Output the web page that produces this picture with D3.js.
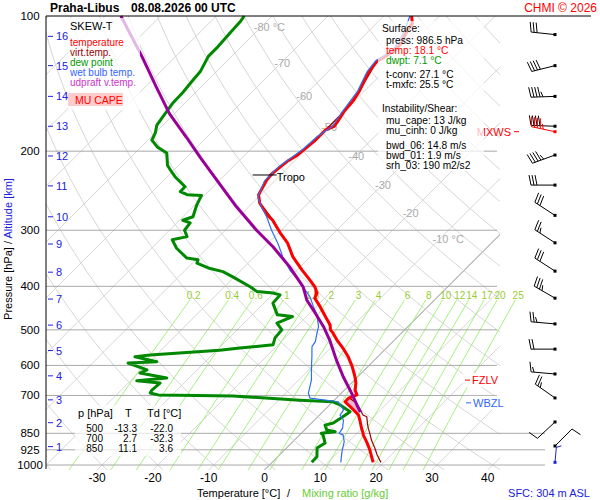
<!DOCTYPE html>
<html>
<head>
<meta charset="utf-8">
<script src="https://cdn.jsdelivr.net/npm/d3@7"></script>
<style>
  body { margin: 0; background: #fff; }
  svg { font-family: "Liberation Sans", Arial, sans-serif; }
</style>
</head>
<body>
<script>
// sounding (pressure hPa / degC)
const tempP = [986.5,958,926,887,857,850,828,801,774,754,723,710,698,681,657,636,604,574,549,527,508,500,488,467,444,425,414,401,383,368,344,320,304,285,278,261,250,233,225,217,210,205,198,190,185,179,176,171,163,154,147,133,126,124,119,115,109,104,100];
const tempT = [18.1,16.8,15.3,13.2,11.4,11.1,9.9,8.5,7.0,5.2,2.2,2.2,3.1,1.9,0.8,-0.5,-2.8,-5.3,-7.8,-10.3,-12.3,-13.3,-14.2,-16.6,-19.3,-21.8,-22.3,-23.8,-26.6,-29.1,-33.1,-36.6,-39.7,-43.3,-45.1,-48.7,-50.4,-51.5,-51.8,-51.5,-51.2,-50.6,-50.3,-50.0,-50.0,-50.0,-49.1,-49.4,-50.0,-50.3,-50.9,-52.7,-53.1,-52.6,-51.9,-51.9,-53.1,-53.5,-55.0];

const virtP = [986.5,950,918,880,850,828,808,781,774,754,729,710,698,681,657,636,604,574,549,527,500,467,444,425,401,383,368,344,320,304,285,261,250,233,217,198,179,163,147,126,115,104,100];
const virtT = [19.5,17.5,15.9,13.8,12.3,11.1,10.1,8.8,7.8,6.4,4.6,2.4,3.2,2.0,0.9,-0.4,-2.7,-5.2,-7.7,-10.2,-13.2,-16.5,-19.2,-21.7,-23.7,-26.5,-29.0,-33.0,-36.5,-39.6,-43.2,-48.6,-50.4,-51.5,-51.5,-50.3,-50.0,-50.0,-50.9,-53.1,-51.9,-53.5,-55.0];

const dewP = [986.5,958,917,893,857,850,843,836,815,806,781,761,735,723,717,702,698,691,681,657,649,640,624,614,593,589,574,569,555,549,540,521,500,483,467,463,436,418,414,411,401,381,371,364,355,349,346,329,315,310,300,289,285,280,264,251,250,246,240,228,220,215,202,196,189,182,175,168,156,148,139,133,123,117,109,103,100];
const dewT = [7.1,7.0,5.5,6.0,4.2,3.6,5.8,4.0,2.8,3.9,4.5,4.9,1.9,0.0,-6.2,-18.9,-32.5,-34.3,-34.5,-34.3,-38.9,-34.0,-39.7,-39.0,-43.6,-38.7,-43.5,-41.1,-29.5,-26.3,-20.9,-21.8,-22.0,-24.1,-22.5,-25.5,-28.4,-28.6,-30.2,-33.3,-35.4,-40.3,-43.0,-46.3,-49.2,-49.6,-51.9,-55.5,-57.8,-55.7,-57.3,-57.6,-59.4,-58.2,-59.6,-60.5,-63.2,-65.0,-65.0,-68.6,-70.7,-72.0,-74.3,-77.0,-79.3,-80.0,-81.1,-81.5,-82.2,-82.3,-82.7,-82.9,-84.2,-84.2,-84.5,-84.7,-85.0];

const wetP = [986.5,934,887,857,850,828,794,774,754,723,710,692,647,604,574,545,531,509,492,463,444,422,406,387,368,344,321,300,280,266,253,233,217,198,185,176,163,147,133,126,119,109,100];
const wetT = [12.3,10.6,9.2,7.8,6.8,6.5,5.2,3.7,3.4,1.0,-4.7,-5.9,-7.7,-10.1,-11.8,-13.6,-13.9,-15.1,-16.0,-18.4,-20.5,-22.9,-25.2,-28.0,-31.3,-34.9,-38.2,-41.7,-45.0,-47.7,-50.1,-51.8,-51.8,-50.6,-50.3,-49.4,-50.3,-51.2,-53.0,-53.4,-52.2,-53.4,-55.3];

const parcelP = [762,735,690,636,584,527,492,459,429,401,362,327,300,266,232,207,186,165,144,123,100];
const parcelT = [6.8,4.9,1.7,-2.6,-6.8,-11.6,-15.1,-19.0,-22.9,-25.9,-31.9,-38.4,-44.4,-52.2,-60.5,-67.4,-73.7,-80.9,-88.0,-96.1,-107.1];

// winds at every km level (+ surface)
const windP   = [986.5,907,802,709,627,552,485,425,370,320,278,238,204,176,151,129,110];
const windDir = [5,45,227,305,275,270,275,300,303,303,303,270,250,272,268,256,276];
const windSpd = [3,10,10,25,15,20,25,35,30,25,30,30,45,40,45,40,30];
const mxwsP = 181, mxwsDir = 282, mxwsSpd = 45;

// special levels
const tropoP = 226, fzlvP = 647, wbzlP = 727;

// axes / ticks
const pressureTicks = [200,300,400,500,600,700,850,925,1000];
const pressureLabels = [100,200,300,400,500,600,700,850,925,1000];
const tempTicks = [-30,-20,-10,0,10,20,30,40];
const kmLevels = [1,2,3,4,5,6,7,8,9,10,11,12,13,14,15,16];
const kmPres = [910,805,716,633,556,488,427,372,322,280,239,205,176,151,129,111];
const mixRatios = [0.2,0.4,0.6,1,1.5,2,3,4,6,8,10,12,14,17,20,25];
const isoLabelT = [-80,-70,-60,-50,-40,-30,-20,-10];
const isoLabelP = [106,127,151,177,205,238,275,314];

// text panels
const legendNames = ["temperature","virt.temp.","dew point","wet bulb temp.","udpraft v.temp."];
const legendColors = ["#ff0000","#990000","#009900","#3366ff","#cc33cc"];
const surfaceInfo = ["press: 986.5 hPa","temp: 18.1 °C","dwpt: 7.1 °C"];
const convInfo = ["t-conv: 27.1 °C","t-mxfc: 25.5 °C"];
const instabInfo = ["mu_cape: 13 J/kg","mu_cinh: 0 J/kg"];
const shearInfo = ["bwd_06: 14.8 m/s","bwd_01: 1.9 m/s","srh_03: 190 m2/s2"];
const tableP = [500,700,850];
const tableT = [-13.3,2.7,11.1];
const tableTd = [-22.0,-32.3,3.6];

const svg = d3.select("body").append("svg").attr("width",600).attr("height",500);

const plotL = 46, plotR = 500, plotT = 16, plotB = 470;
const y = d3.scaleLog().domain([1000,100]).range([465,16]);
const tx = d3.scaleLinear().domain([0,40]).range([264.5,487.7]);
const skewX = (T,p) => tx(T) + (plotB - y(p));
const pBot = y.invert(plotB);

const series = (P,T) => P.map((p,i) => ({p:p, T:T[i]}));
const traceLine = d3.line().x(d => skewX(d.T,d.p)).y(d => y(d.p));

svg.append("defs").append("clipPath").attr("id","plotclip")
  .append("rect").attr("x",plotL).attr("y",plotT).attr("width",plotR-plotL).attr("height",plotB-plotT);

// background grid
const grid = svg.append("g").attr("clip-path","url(#plotclip)").attr("fill","none");

d3.range(-130,50,10).forEach(T => {
  grid.append("line")
    .attr("x1",skewX(T,pBot)).attr("y1",y(pBot))
    .attr("x2",skewX(T,100)).attr("y2",y(100))
    .attr("stroke", T === 0 ? "#888" : "#d6d6d6").attr("stroke-width",1);
});

const adiabatP = d3.range(pBot,100,-10).concat([100]);
d3.range(-40,190,10).forEach(th => {
  const pts = adiabatP.map(p => ({p:p, T:(th+273.15)*Math.pow(p/1000,0.2857)-273.15}));
  grid.append("path").attr("d",traceLine(pts)).attr("stroke","#d6d6d6").attr("stroke-width",1);
});

// mixing ratio lines
function dewFromW(w,p) {
  const e = w*p/(622+w);
  return 1/(1/273.15 - 1.846e-4*Math.log(e/6.11)) - 273.15;
}
const mixG = svg.append("g");
mixRatios.forEach(w => {
  const pts = d3.range(pBot,429,-15).concat([429]).map(p => ({p:p, T:dewFromW(w,p)}));
  mixG.append("path").attr("d",traceLine(pts)).attr("fill","none")
    .attr("stroke","#a6f07c").attr("stroke-width",1);
  mixG.append("text").attr("x",skewX(dewFromW(w,418),418)).attr("y",y(418)+4)
    .attr("text-anchor","middle").attr("font-size",10).attr("fill","#99cc33").text(w);
});

// isobars
pressureTicks.forEach(p => {
  svg.append("line").attr("x1",plotL).attr("x2", p >= 850 ? 545 : 497)
    .attr("y1",y(p)).attr("y2",y(p)).attr("stroke","#a8a8a8").attr("stroke-width",1);
});

// isotherm labels
isoLabelT.forEach((T,i) => {
  const p = isoLabelP[i];
  svg.append("text").attr("x",skewX(T,p)-7).attr("y",y(p)+4)
    .attr("font-size",11).attr("fill","#aaaaaa")
    .text(T + ((T === -80 || T === -10) ? " °C" : ""));
});

// CAPE area
function interp(P,T,p) {
  for (let i = 0; i < P.length-1; i++) {
    if (p <= P[i] && p >= P[i+1]) return T[i] + (T[i+1]-T[i])*(P[i]-p)/(P[i]-P[i+1]);
  }
  return T[T.length-1];
}
const capeP = d3.range(762,703,-1);
svg.append("path").datum(capeP)
  .attr("d", d3.area()
    .y(p => y(p))
    .x0(p => skewX(interp(tempP,tempT,p),p))
    .x1(p => skewX(Math.max(interp(parcelP,parcelT,p),interp(tempP,tempT,p)),p)))
  .attr("fill","#f4b4d0");

// traces
const traces = svg.append("g").attr("fill","none").attr("stroke-linejoin","round");
traces.append("path").attr("d",traceLine(series(dewP,dewT))).attr("stroke","#008800").attr("stroke-width",3);
traces.append("path").attr("d",traceLine(series(virtP,virtT))).attr("stroke","#990000").attr("stroke-width",1.2);
traces.append("path").attr("d",traceLine(series(tempP,tempT))).attr("stroke","#ff0000").attr("stroke-width",3);
traces.append("path").attr("d",traceLine(series(wetP,wetT))).attr("stroke","#2f6ff0").attr("stroke-width",1.2);
traces.append("path").attr("d",traceLine(series(parcelP,parcelT))).attr("stroke","#990099").attr("stroke-width",3);

// tropopause
const tropoX = skewX(interp(tempP,tempT,tropoP),tropoP);
svg.append("line").attr("x1",tropoX-18).attr("x2",tropoX+6).attr("y1",y(tropoP)).attr("y2",y(tropoP))
  .attr("stroke","#000");
svg.append("text").attr("x",tropoX+6).attr("y",y(tropoP)+6).attr("font-size",11).text("Tropo");

// axes frame
svg.append("line").attr("x1",plotL).attr("x2",591).attr("y1",y(100)).attr("y2",y(100)).attr("stroke","#000");
svg.append("line").attr("x1",plotL).attr("x2",plotL).attr("y1",y(100)).attr("y2",plotB-1).attr("stroke","#000");

pressureLabels.forEach(p => {
  svg.append("text").attr("x",30).attr("y",y(p)+4).attr("text-anchor","middle")
    .attr("font-size",11.5).text(p);
});
tempTicks.forEach(T => {
  svg.append("text").attr("x",tx(T)).attr("y",482).attr("text-anchor","middle")
    .attr("font-size",12).text(T);
});
kmLevels.forEach((k,i) => {
  const yy = y(kmPres[i]);
  svg.append("line").attr("x1",48).attr("x2",53).attr("y1",yy).attr("y2",yy).attr("stroke","#2020e0");
  svg.append("text").attr("x",56).attr("y",yy+4).attr("font-size",11).attr("fill","#2020e0").text(k);
});

// axis titles
const xt = svg.append("text").attr("y",497).attr("font-size",11);
xt.append("tspan").attr("x",197).text("Temperature [°C]");
xt.append("tspan").attr("x",287).text("/");
xt.append("tspan").attr("x",302).attr("fill","#66cc33").text("Mixing ratio [g/kg]");

const yt = svg.append("text").attr("transform","translate(12,249) rotate(-90)")
  .attr("text-anchor","middle").attr("font-size",11);
yt.append("tspan").text("Pressure [hPa]  /  ");
yt.append("tspan").attr("fill","#2020e0").text("Altitude [km]");

svg.append("text").attr("x",590).attr("y",497).attr("text-anchor","end")
  .attr("font-size",11).attr("fill","#2020e0").text("SFC: 304 m ASL");

// title
svg.append("text").attr("x",50).attr("y",12).attr("font-size",12).attr("font-weight","bold").text("Praha-Libus");
svg.append("text").attr("x",131).attr("y",12).attr("font-size",12).attr("font-weight","bold").text("08.08.2026 00 UTC");
svg.append("text").attr("x",597).attr("y",12).attr("text-anchor","end").attr("font-size",12)
  .attr("fill","#ff0000").text("CHMI © 2026");

// level markers
function marker(p, label, color, xPos) {
  svg.append("rect").attr("x",xPos-2).attr("y",y(p)-7).attr("width",44).attr("height",14)
    .attr("fill","#fff").attr("opacity",0.85);
  svg.append("line").attr("x1",xPos).attr("x2",xPos+5).attr("y1",y(p)).attr("y2",y(p)).attr("stroke",color);
  svg.append("text").attr("x",xPos+7).attr("y",y(p)+4).attr("font-size",11).attr("fill",color).text(label);
}
marker(fzlvP,"FZLV","#ff0000",465);
marker(wbzlP,"WBZL","#3366ff",466);
svg.append("text").attr("x",511).attr("y",y(mxwsP)+4).attr("text-anchor","end")
  .attr("font-size",11).attr("fill","#ff0000").text("MXWS");
svg.append("line").attr("x1",514).attr("x2",519).attr("y1",y(mxwsP)).attr("y2",y(mxwsP)).attr("stroke","#ff0000");

// wind barbs
const barbs = svg.append("g");
function barb(cx, cy, dir, spd, color, L) {
  const a = dir*Math.PI/180;
  const ux = Math.sin(a), uy = -Math.cos(a);
  const px = -uy, py = ux;
  const ex = cx + ux*L, ey = cy + uy*L;
  barbs.append("line").attr("x1",cx).attr("y1",cy).attr("x2",ex).attr("y2",ey).attr("stroke",color);
  let s = Math.round(spd/5)*5, d = 0;
  const seg = len => {
    const bx = ex - ux*d, by = ey - uy*d;
    barbs.append("line").attr("x1",bx).attr("y1",by)
      .attr("x2",bx + px*len + ux*2).attr("y2",by + py*len + uy*2).attr("stroke",color);
    d += 3;
  };
  while (s >= 10) { seg(10); s -= 10; }
  if (s >= 5) seg(5);
}
windP.forEach((p,i) => {
  const surf = i === 0;
  barb(555, y(p), windDir[i], windSpd[i], surf ? "#2020e0" : "#000", surf ? 15 : 24);
  barbs.append("rect").attr("x",553.5).attr("y",y(p)-1.5).attr("width",3).attr("height",3)
    .attr("fill", surf ? "#2020e0" : "#000");
});
barb(555, y(mxwsP), mxwsDir, mxwsSpd, "#ff0000", 24);
barbs.append("rect").attr("x",553.5).attr("y",y(mxwsP)-1.5).attr("width",3).attr("height",3).attr("fill","#ff0000");

// legend box
svg.append("rect").attr("x",68).attr("y",18).attr("width",72).attr("height",92).attr("fill","#fff").attr("opacity",0.72);
svg.append("text").attr("x",70).attr("y",30).attr("font-size",11).text("SKEW-T");
legendNames.forEach((n,i) => {
  svg.append("text").attr("x",70).attr("y",46+i*10).attr("font-size",10).attr("fill",legendColors[i]).text(n);
});
svg.append("rect").attr("x",68).attr("y",93).attr("width",55).attr("height",13).attr("fill","#ffcccc");
svg.append("text").attr("x",75).attr("y",104).attr("font-size",10.5).attr("fill","#ff0000").text("MU CAPE");

// info box
svg.append("rect").attr("x",378).attr("y",21).attr("width",106).attr("height",150).attr("fill","#fff").attr("opacity",0.72);
const info = svg.append("g").attr("font-size",10.2);
info.append("text").attr("x",382).attr("y",32).text("Surface:");
const surfColors = ["#000","#ff0000","#009900"];
surfaceInfo.forEach((t,i) => info.append("text").attr("x",386).attr("y",44+i*10).attr("fill",surfColors[i]).text(t));
convInfo.forEach((t,i) => info.append("text").attr("x",386).attr("y",78+i*10).text(t));
info.append("text").attr("x",382).attr("y",112).text("Instability/Shear:");
instabInfo.forEach((t,i) => info.append("text").attr("x",386).attr("y",124+i*10).text(t));
shearInfo.forEach((t,i) => info.append("text").attr("x",386).attr("y",149+i*10).text(t));

// table box
svg.append("rect").attr("x",75).attr("y",405).attr("width",106).attr("height",51).attr("fill","#fff").attr("opacity",0.72);
const tbl = svg.append("g").attr("font-size",10);
tbl.append("text").attr("x",78).attr("y",417).attr("font-size",11).text("p [hPa]");
tbl.append("text").attr("x",125).attr("y",417).attr("font-size",11).text("T");
tbl.append("text").attr("x",147).attr("y",417).attr("font-size",11).text("Td [°C]");
tableP.forEach((p,i) => {
  const yy = 432 + i*10;
  tbl.append("text").attr("x",103).attr("y",yy).attr("text-anchor","end").text(p);
  tbl.append("text").attr("x",137).attr("y",yy).attr("text-anchor","end").text(tableT[i].toFixed(1));
  tbl.append("text").attr("x",173).attr("y",yy).attr("text-anchor","end").text(tableTd[i].toFixed(1));
});
</script>
</body>
</html>
